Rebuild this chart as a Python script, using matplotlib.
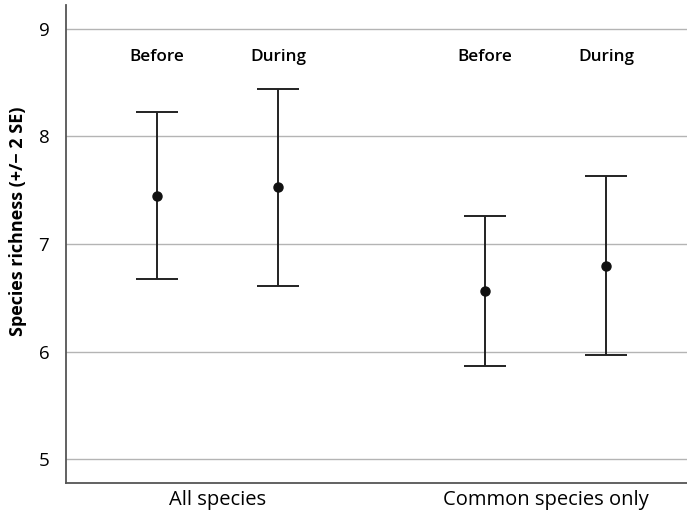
import matplotlib
matplotlib.use("Agg")
import matplotlib.pyplot as plt
import numpy as np

plt.rcParams['font.family'] = ['Open Sans', 'DejaVu Sans']

groups = ["All species", "Common species only"]
periods = ["Before", "During"]
means = [7.45, 7.53, 6.565, 6.80]
upper = [8.23, 8.44, 7.26, 7.63]
lower = [6.68, 6.61, 5.87, 5.97]

centers = np.array([1.0, 2.0])
offset = 0.184
xs = np.array([c + d for c in centers for d in (-offset, offset)])
means = np.array(means)
yerr = [means - np.array(lower), np.array(upper) - means]

fig = plt.figure(figsize=(6.87, 5.15), dpi=100)
ax = fig.add_axes([0.096, 0.062, 0.904, 0.928])

for y in [5, 6, 7, 8, 9]:
    ax.axhline(y, color="#b4b4b4", lw=1.0, zorder=0)

ax.errorbar(xs, means, yerr=yerr, fmt="o", color="#111111", ms=6.5,
            ecolor="#222222", elinewidth=1.4, capsize=15, capthick=1.4, zorder=3)

for x, lab in zip(xs, periods * 2):
    ax.text(x, 8.74, lab, ha="center", va="center", fontsize=12.3, fontweight="semibold")

ax.set_xlim(0.538, 2.431)
ax.set_ylim(4.78, 9.22)
ax.set_yticks([5, 6, 7, 8, 9])
ax.set_xticks(centers)
ax.set_xticklabels(groups, fontsize=14.5)
ax.tick_params(axis="both", length=0)
ax.tick_params(axis="y", pad=12, labelsize=13.5)
ax.tick_params(axis="x", pad=5)
ax.set_ylabel("Species richness (+/\u2212 2 SE)", fontsize=13, fontweight="bold")
ax.yaxis.set_label_coords(-0.062, 0.548)

for s in ["top", "right"]:
    ax.spines[s].set_visible(False)
for s in ["left", "bottom"]:
    ax.spines[s].set_color("#555555")
    ax.spines[s].set_linewidth(1.3)

fig.savefig("out.png", dpi=100)
